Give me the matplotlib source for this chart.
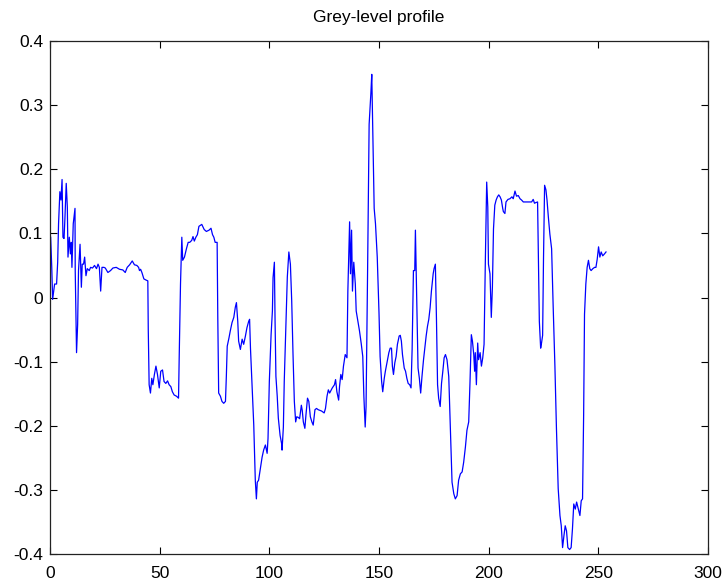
import numpy as np
import matplotlib.pyplot as plt

# grey-level profile, points
xs = [0.3, 0.8, 1.2, 2.1, 3.0, 3.5, 3.9, 4.5, 5.0, 5.5, 5.9, 6.4, 6.8, 7.4, 7.9, 8.2, 8.8, 9.3, 9.7, 10.0,
      10.6, 11.4, 11.5, 12.1, 12.6, 13.0, 13.7, 14.3, 14.7, 15.3, 15.8, 16.4, 17.0, 17.9, 18.5, 19.4, 20.3, 21.2,
      21.9, 22.5, 23.1, 23.7, 24.6, 25.2, 26.4, 27.6, 28.7, 30.2, 31.7, 33.2, 34.3, 35.2, 36.3, 37.5, 38.5, 39.6,
      40.4, 40.8, 41.3, 41.9, 42.8, 43.9, 44.6, 44.8, 45.2, 45.8, 46.4, 46.9, 47.6,
      48.3, 49.0, 49.8, 50.5, 51.3, 52.0, 52.8, 53.6, 54.3, 55.1, 55.8, 56.6, 57.7, 58.6, 58.9, 59.5, 60.1, 60.5,
      61.3, 62.2, 63.0, 63.7, 64.6, 65.2, 65.8, 66.5, 67.2, 67.9, 69.2, 70.3, 71.3, 72.5, 73.4, 74.1, 74.7, 75.3,
      76.2, 76.5, 76.9, 77.7, 78.4, 79.2, 80.0, 80.4, 80.8, 81.6, 82.2, 83.0, 83.8, 84.5, 85.0, 85.6, 86.0, 86.8,
      87.6, 88.3, 89.1, 89.8, 90.6, 91.0, 91.4, 92.1, 92.9, 93.6, 94.1, 94.5, 95.1, 95.9, 96.7, 97.4, 98.2, 99.0,
      99.4, 100.0, 100.8, 101.4, 101.7, 102.3, 102.6, 103.0, 103.6, 104.1, 104.9, 105.6, 105.8, 106.4, 106.8,
      107.6, 108.2, 108.9, 109.6, 110.2, 110.8, 111.4, 112.0, 112.5, 113.2, 113.8, 114.6, 115.0, 115.5, 116.2,
      116.7, 117.4, 118.0, 118.7, 119.4, 120.0, 120.8, 121.5, 122.3, 123.8, 125.0, 125.6, 126.3, 126.9, 127.5,
      128.7, 129.7, 130.2, 130.8, 131.6, 132.0, 132.6, 133.2, 133.8, 134.6, 135.4, 135.8, 136.6, 137.0, 137.5,
      137.9, 138.5, 139.2, 139.6, 140.4, 141.1, 141.9, 142.6, 143.1, 143.7, 144.1, 144.8, 145.5, 146.3, 146.7,
      147.2, 147.8, 148.4, 149.2, 150.0, 150.5, 151.2, 151.7, 152.4, 152.9, 153.6,
      154.5, 155.1, 155.7, 156.1, 156.6, 157.2, 157.8, 158.4, 159.2, 159.7, 160.2, 160.7, 161.5, 162.1, 162.7,
      163.3, 164.0, 164.6, 165.1, 165.7, 166.3, 166.6, 167.2, 167.8, 168.4, 169.0, 169.6, 170.3, 170.9, 171.5,
      172.1, 172.7, 173.3, 173.9, 174.7, 175.1, 175.7, 176.2, 176.7, 177.2, 177.9, 178.5, 179.1, 179.7, 180.3,
      181.0, 181.8, 182.5, 183.3, 184.1, 184.8, 185.6, 186.3, 187.1, 187.9, 188.6, 189.4, 190.1, 190.9, 191.5,
      192.1, 192.6, 193.2, 193.6, 193.9, 194.4, 195.0, 195.4, 196.1, 196.7, 197.3, 197.9, 198.5, 199.1, 199.6,
      199.9, 200.6, 201.2, 201.7, 202.2, 202.8, 203.4, 204.0, 204.6, 205.2, 205.8, 206.4,
      206.7, 207.4, 207.9, 208.8, 209.7, 210.6, 211.2, 212.0, 212.7, 213.5, 214.3, 215.0, 215.8, 217.0, 218.5,
      219.6, 220.3, 220.9, 221.5, 222.3, 222.6, 223.1, 223.7, 224.1, 224.6, 225.0, 225.5, 226.1, 226.6, 227.2,
      227.9, 228.7, 229.4, 230.2, 230.9, 231.7, 232.5, 233.1,
      233.7, 234.3, 234.9, 235.5, 236.1, 236.9, 237.6, 238.2, 238.8, 239.5, 240.1, 240.9, 241.6, 242.2, 242.8,
      243.3, 243.7, 244.3, 244.9, 245.5, 246.1, 246.7, 247.5, 248.3, 248.9, 249.5, 250.1, 250.7, 251.3, 252.0,
      252.8, 253.5]

ys = [0.094, 0.047, -0.003, 0.021, 0.021, 0.055, 0.115, 0.165, 0.152, 0.184, 0.094, 0.092, 0.123, 0.178, 0.141, 0.063, 0.094, 0.068, 0.086, 0.047,
      0.115, 0.139, 0.042, -0.086, -0.042, 0.042, 0.083, 0.016, 0.052, 0.052, 0.063, 0.034, 0.045, 0.042, 0.047, 0.046, 0.050, 0.045,
      0.052, 0.047, 0.010, 0.047, 0.047, 0.046, 0.039, 0.042, 0.046, 0.047, 0.044, 0.043, 0.039, 0.047, 0.051, 0.057, 0.051, 0.050,
      0.047, 0.042, 0.044, 0.039, 0.029, 0.027, 0.026, -0.050, -0.136, -0.149, -0.126, -0.136, -0.120,
      -0.107, -0.120, -0.141, -0.115, -0.113, -0.131, -0.134, -0.130, -0.136, -0.139, -0.147, -0.152, -0.154, -0.157, -0.094, 0.021, 0.094, 0.058,
      0.063, 0.076, 0.086, 0.086, 0.089, 0.095, 0.088, 0.094, 0.098, 0.111, 0.114, 0.106, 0.103, 0.105, 0.108, 0.098, 0.094, 0.086,
      0.086, -0.031, -0.149, -0.154, -0.162, -0.165, -0.162, -0.123, -0.076, -0.063, -0.052, -0.039, -0.031, -0.015, -0.008, -0.037, -0.068, -0.081,
      -0.065, -0.073, -0.060, -0.047, -0.037, -0.034, -0.079, -0.136, -0.199, -0.285, -0.314, -0.288, -0.285, -0.267, -0.249, -0.238, -0.230, -0.243,
      -0.220, -0.131, -0.058, -0.021, 0.031, 0.055, -0.034, -0.123, -0.154, -0.188, -0.215, -0.228, -0.238, -0.202, -0.131,
      -0.037, 0.032, 0.071, 0.052, -0.005, -0.089, -0.162, -0.194, -0.186, -0.187, -0.189, -0.168, -0.176, -0.194, -0.204,
      -0.183, -0.157, -0.162, -0.186, -0.194, -0.199, -0.175, -0.173, -0.175, -0.177, -0.180, -0.173, -0.154, -0.144, -0.149,
      -0.141, -0.136, -0.128, -0.147, -0.160, -0.139, -0.120, -0.128, -0.107, -0.089, -0.094, 0.010, 0.118, 0.037, 0.105,
      0.010, 0.055, 0.021, -0.021, -0.037, -0.052, -0.072, -0.092, -0.154, -0.202, -0.170, 0.042, 0.270, 0.319, 0.348,
      0.249, 0.139, 0.115, 0.063, -0.024, -0.092, -0.131, -0.147, -0.126, -0.115, -0.102,
      -0.086, -0.079, -0.079, -0.107, -0.120, -0.102, -0.092, -0.073, -0.060, -0.059, -0.068, -0.089, -0.110, -0.115, -0.126,
      -0.134, -0.136, -0.141, -0.081, 0.042, 0.042, 0.105, -0.003, -0.110, -0.126, -0.149, -0.123, -0.097, -0.079, -0.060,
      -0.045, -0.034, -0.016, 0.010, 0.037, 0.045, 0.052, -0.034, -0.136, -0.157, -0.170, -0.134, -0.115, -0.094, -0.089,
      -0.097, -0.123, -0.202, -0.288, -0.306, -0.314, -0.309, -0.285, -0.275, -0.272, -0.257, -0.233, -0.207, -0.194, -0.131,
      -0.058, -0.068, -0.089, -0.115, -0.086, -0.136, -0.071, -0.097, -0.086, -0.107, -0.094, -0.073, 0.060, 0.180, 0.141,
      0.052, 0.037, -0.031, 0.016, 0.107, 0.144, 0.152, 0.157, 0.160, 0.157, 0.152, 0.139,
      0.134, 0.131, 0.149, 0.153, 0.154, 0.157, 0.154, 0.166, 0.158, 0.159, 0.154, 0.152, 0.149, 0.149, 0.149,
      0.149, 0.153, 0.147, 0.148, 0.149, 0.076, -0.037, -0.079, -0.071, -0.059, 0.060, 0.175, 0.168, 0.152, 0.126,
      0.099, 0.076, -0.013, -0.107, -0.204, -0.298, -0.340, -0.356,
      -0.390, -0.372, -0.356, -0.364, -0.390, -0.393, -0.390, -0.361, -0.322, -0.330, -0.319, -0.330, -0.340, -0.317, -0.314,
      -0.183, -0.026, 0.021, 0.047, 0.058, 0.045, 0.042, 0.045, 0.047, 0.047, 0.060, 0.079, 0.063, 0.071, 0.065,
      0.068, 0.071]

xticks = [0, 50, 100, 150, 200, 250, 300]
yticks = [-0.4, -0.3, -0.2, -0.1, 0, 0.1, 0.2, 0.3, 0.4]
ytick_labels = ['-0.4', '-0.3', '-0.2', '-0.1', '0', '0.1', '0.2', '0.3', '0.4']

plt.rcParams['font.family'] = ['Liberation Sans', 'DejaVu Sans']

fig = plt.figure(figsize=(7.23, 5.84), dpi=100)
ax = fig.add_axes([50 / 723, 1 - 554 / 584, 658 / 723, 513 / 584])

ax.plot(xs, ys, color='#0000ff', linewidth=0.9)

ax.set_xlim(0, 300)
ax.set_ylim(-0.4, 0.4)
ax.set_xticks(xticks)
ax.set_yticks(yticks)
ax.set_yticklabels(ytick_labels)
ax.tick_params(direction='in', length=5, width=0.8, top=True, right=True,
               labelsize=12.5)
ax.tick_params(axis='y', pad=5)
ax.tick_params(axis='x', pad=9)
for s in ax.spines.values():
    s.set_linewidth(0.9)
    s.set_color('#222222')
ax.set_title('Grey-level profile', fontsize=12.5, pad=14)

fig.savefig('out.png', dpi=100)
